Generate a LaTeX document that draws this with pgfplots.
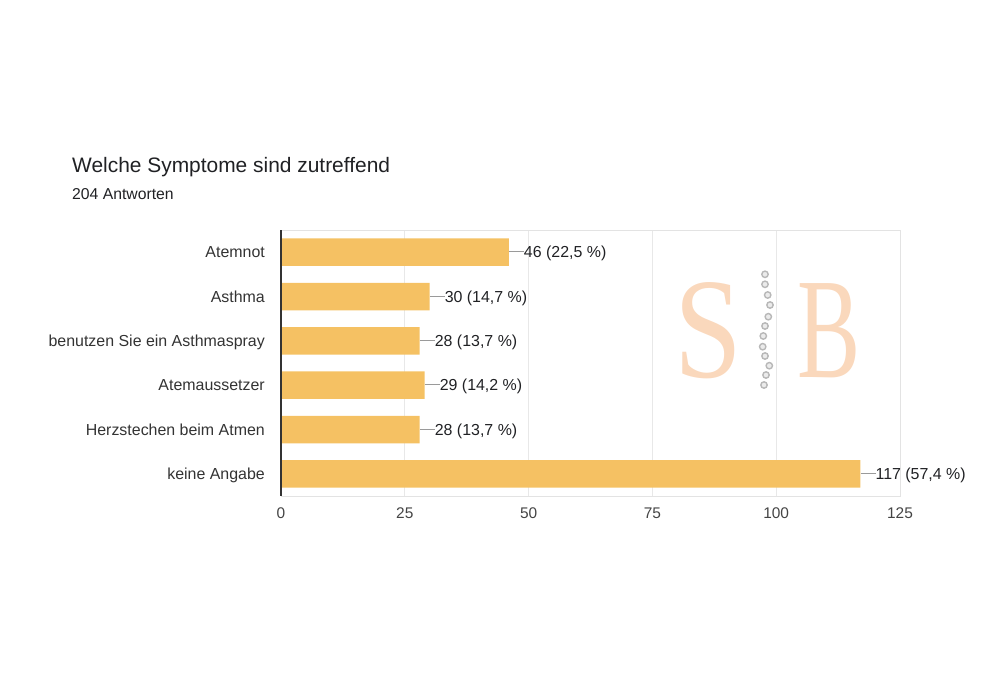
\documentclass[border=0pt]{standalone}
\usepackage{pgfplots}
\pgfplotsset{compat=1.18}
\usepackage{pgfplotstable}
\usepackage{fontspec}
\setmainfont{Liberation Sans}
\newfontfamily\wmfont{Liberation Serif}
\definecolor{barc}{HTML}{F5C163}
\definecolor{gridc}{HTML}{E8E8E8}
\definecolor{bordc}{HTML}{E3E3E3}
\definecolor{txt}{HTML}{202124}
\definecolor{lab}{HTML}{333333}
\definecolor{tick}{HTML}{444444}
\definecolor{conn}{HTML}{9A9A9A}
\definecolor{wmA}{HTML}{F6BE90}

\pgfplotstableread[col sep=semicolon]{
y;v;lab
0;46;46 (22,5 \%)
1;30;30 (14,7 \%)
2;28;28 (13,7 \%)
3;29;29 (14,2 \%)
4;28;28 (13,7 \%)
5;117;117 (57,4 \%)
}\datatab

\begin{document}
\begin{tikzpicture}
\path[use as bounding box] (0bp,0bp) rectangle (1007bp,-686bp);
\node[anchor=base west, inner sep=0, text=txt] at (72bp,-172.3bp) {\fontsize{21}{24}\selectfont Welche Symptome sind zutreffend};
\node[anchor=base west, inner sep=0, text=txt] at (72bp,-199.3bp) {\fontsize{15.8}{18}\selectfont 204 Antworten};
\begin{axis}[
  at={(281bp,-496bp)}, anchor=south west,
  scale only axis, width=619bp, height=266bp,
  xbar, bar width=0.62,
  xmin=0, xmax=125, ymin=-0.5, ymax=5.5, y dir=reverse,
  xtick={0,25,50,75,100,125},
  ytick={0,1,2,3,4,5},
  yticklabels={Atemnot, Asthma, benutzen Sie ein Asthmaspray, Atemaussetzer, Herzstechen beim Atmen, keine Angabe},
  xmajorgrids, grid style={draw=gridc, line width=0.9bp},
  axis line style={draw=bordc, line width=0.9bp},
  major tick length=0pt,
  /pgf/number format/assume math mode=true,
  xticklabel style={font=\fontsize{15.5}{18}\selectfont, text=tick, anchor=north, inner sep=0pt, yshift=-12bp},
  yticklabel style={font=\fontsize{16}{19}\selectfont, text=lab, anchor=base east, inner sep=0pt, xshift=-16bp, yshift=-5.8bp},
  point meta=explicit symbolic,
  nodes near coords={\textcolor{conn}{\rule[5.7bp]{15bp}{0.9bp}}\pgfplotspointmeta},
  nodes near coords style={anchor=base west, inner sep=0pt, yshift=-5.8bp, font=\fontsize{16}{19}\selectfont, text=txt},
  clip=false,
]
\addplot[fill=barc, draw=none] table[x=v, y=y, meta=lab] {\datatab};
\draw[lab, line width=1.1bp] (axis cs:0,-0.5) -- (axis cs:0,5.5);
\end{axis}
% watermark
\begin{scope}[x=1bp,y=1bp]
\begin{scope}[opacity=0.6]
\node[anchor=base, inner sep=0, xscale=0.85, text=wmA] at (708,-377) {\fontsize{144}{144}\wmfont S};
\node[anchor=base, inner sep=0, xscale=0.66, text=wmA] at (829,-377) {\fontsize{144}{144}\wmfont B};
\end{scope}
\foreach \cx/\cy in {765/274.3, 765/284.3, 767.7/295, 770/305, 768.3/316.7, 765/326, 763.3/336, 762.7/346.7, 765/356, 769.3/365.7, 766/375, 764/385}
  \draw[draw=black!28, fill=black!8, line width=1.4bp] (\cx,-\cy) circle (3.2);
\end{scope}
\end{tikzpicture}
\end{document}
